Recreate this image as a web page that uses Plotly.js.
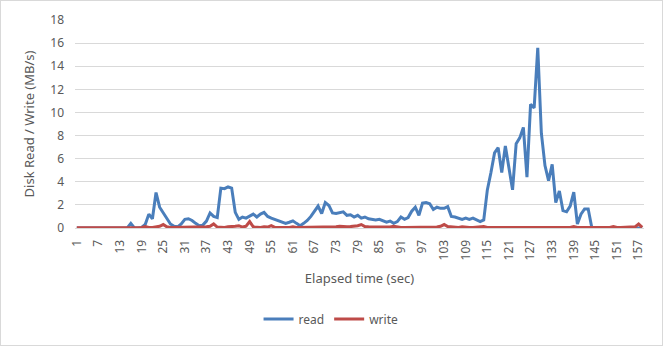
<!DOCTYPE html>
<html>
<head>
<meta charset="utf-8">
<script src="https://cdn.plot.ly/plotly-3.0.1.min.js"></script>
<style>
html,body{margin:0;padding:0;background:#fff;}
#chart{width:663px;height:346px;box-sizing:border-box;border:1px solid #d9d9d9;}
</style>
</head>
<body>
<div id="chart"></div>
<script>
// Elapsed time categories 1..158
const elapsed = [
 1,2,3,4,5,6,7,8,9,10,11,12,13,14,15,16,17,18,19,20,
 21,22,23,24,25,26,27,28,29,30,31,32,33,34,35,36,37,38,39,40,
 41,42,43,44,45,46,47,48,49,50,51,52,53,54,55,56,57,58,59,60,
 61,62,63,64,65,66,67,68,69,70,71,72,73,74,75,76,77,78,79,80,
 81,82,83,84,85,86,87,88,89,90,91,92,93,94,95,96,97,98,99,100,
 101,102,103,104,105,106,107,108,109,110,111,112,113,114,115,116,117,118,119,120,
 121,122,123,124,125,126,127,128,129,130,131,132,133,134,135,136,137,138,139,140,
 141,142,143,144,145,146,147,148,149,150,151,152,153,154,155,156,157,158
];
const read = [
 0,0,0,0,0,0,0,0,0,0,0,0,0,0,0,0.4,0,0,0.05,0.3,
 1.2,0.8,3.07,1.8,1.35,0.9,0.35,0.15,0.1,0.35,0.75,0.8,0.65,0.4,0.2,0.25,0.6,1.3,1.0,0.9,
 3.45,3.4,3.55,3.45,1.35,0.75,0.95,0.85,1.0,1.2,0.95,1.2,1.35,1.0,0.85,0.75,0.6,0.5,0.4,0.5,
 0.62,0.4,0.2,0.4,0.65,1.0,1.5,1.9,1.25,2.2,1.95,1.3,1.25,1.3,1.4,1.1,1.15,0.95,1.1,0.85,
 0.95,0.8,0.75,0.7,0.75,0.6,0.5,0.6,0.4,0.55,0.95,0.75,0.9,1.45,1.8,1.1,2.15,2.2,2.1,1.6,
 1.8,1.7,1.7,1.85,1.0,0.95,0.85,0.75,0.85,0.75,0.85,0.7,0.55,0.7,3.3,4.8,6.5,6.95,4.8,7.1,
 5.0,3.3,7.3,7.8,8.7,4.4,10.7,10.4,15.6,8.2,5.4,4.1,5.5,2.2,3.2,1.5,1.4,1.9,3.1,0.35,
 1.2,1.65,1.65,0.05,0,0,0,0,0,0,0,0,0,0,0,0,0,0
];
const write = [
 0.03,0.03,0.03,0.03,0.03,0.03,0.03,0.03,0.03,0.03,0.03,0.03,0.03,0.03,0.03,0.03,0.03,0.03,0.05,0.12,
 0.05,0.05,0.08,0.15,0.3,0.1,0.05,0.05,0.05,0.05,0.08,0.05,0.05,0.05,0.05,0.05,0.1,0.15,0.35,0.08,
 0.05,0.05,0.1,0.1,0.15,0.2,0.08,0.15,0.55,0.1,0.05,0.05,0.1,0.08,0.2,0.05,0.05,0.08,0.05,0.05,
 0.1,0.05,0.05,0.05,0.05,0.05,0.05,0.05,0.08,0.1,0.1,0.08,0.1,0.15,0.1,0.1,0.12,0.15,0.2,0.3,
 0.12,0.1,0.1,0.08,0.05,0.05,0.05,0.08,0.15,0.08,0.05,0.05,0.05,0.05,0.05,0.05,0.05,0.05,0.05,0.05,
 0.08,0.15,0.3,0.12,0.08,0.05,0.05,0.1,0.05,0.05,0.05,0.08,0.1,0.12,0.05,0.05,0.08,0.05,0.05,0.08,
 0.05,0.05,0.08,0.05,0.05,0.08,0.05,0.05,0.08,0.08,0.05,0.05,0.05,0.05,0.1,0.05,0.1,0.05,0.12,0.05,
 0.05,0.05,0.05,0.05,0.05,0.05,0.05,0.05,0.05,0.12,0.05,0.05,0.05,0.05,0.05,0.1,0.35,0.05
];
const tickVals = [1,7,13,19,25,31,37,43,49,55,61,67,73,79,85,91,97,103,109,115,121,127,133,139,145,151,157];
const tickText = tickVals.map(String);
const seriesNames = ['read','write'];
const colors = ['#4a7ebb','#be4b48'];
const font = 'Noto Sans, Open Sans, sans-serif';
const grey = '#595959';

const traces = [
 {x: elapsed, y: read, name: seriesNames[0], type:'scatter', mode:'lines',
  line:{color:colors[0], width:3, shape:'linear'}},
 {x: elapsed, y: write, name: seriesNames[1], type:'scatter', mode:'lines',
  line:{color:colors[1], width:3, shape:'linear'}}
];

const layout = {
 width: 661, height: 344,
 margin: {l: 74, r: 18, t: 19, b: 115, pad: 0},
 paper_bgcolor:'#fff', plot_bgcolor:'#fff',
 font:{family:font, color:grey, size:12},
 showlegend:true,
 legend:{orientation:'h', x:0.45, xanchor:'center', y:-0.438, yanchor:'middle',
   font:{family:font, color:grey, size:12}, itemwidth:30},
 xaxis:{
   type:'linear', range:[0.5,158.5], tickmode:'array', tickvals:tickVals, ticktext:tickText,
   tickangle:-90, showgrid:false, zeroline:false, showline:true, linecolor:'#d9d9d9', linewidth:1,
   ticks:'', ticklabelstandoff:6, tickfont:{family:font, color:grey, size:12},
   title:{text:'Elapsed time (sec)', font:{family:font, color:grey, size:13}, standoff:14}
 },
 yaxis:{
   range:[0,18], dtick:2, tick0:0, showgrid:true, gridcolor:'#d9d9d9', gridwidth:1,
   zeroline:false, showline:false, ticks:'', ticklabelstandoff:10,
   tickfont:{family:font, color:grey, size:12},
   title:{text:'Disk Read / Write (MB/s)', font:{family:font, color:grey, size:13}, standoff:12}
 }
};

Plotly.newPlot('chart', traces, layout, {staticPlot:true, displayModeBar:false});
</script>
</body>
</html>
